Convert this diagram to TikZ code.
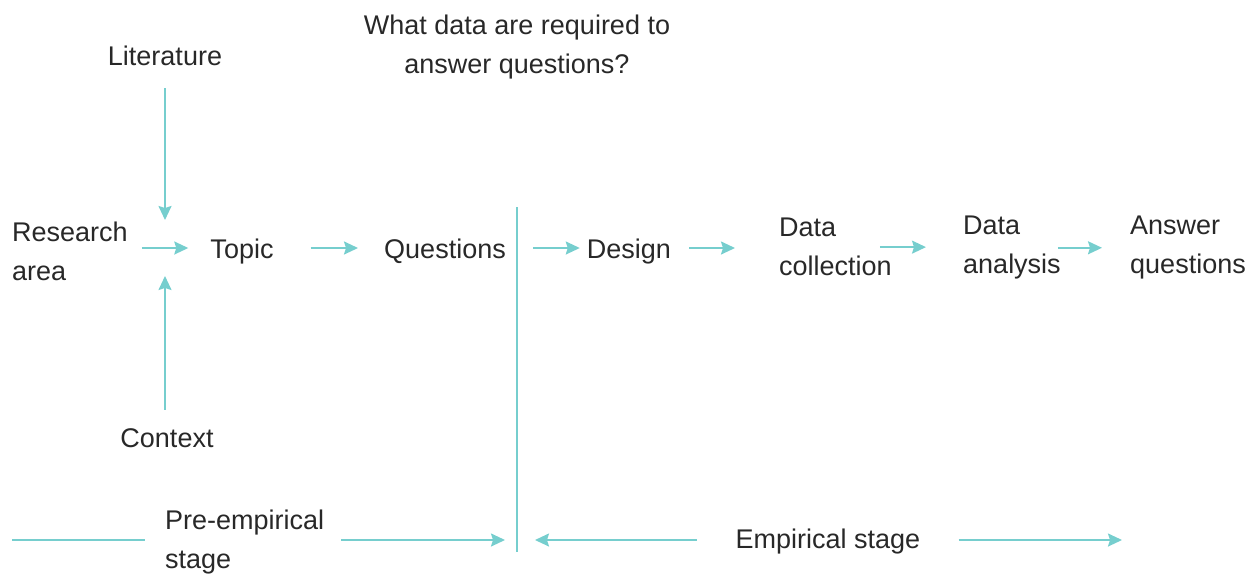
\documentclass[tikz,border=0pt]{standalone}
\usepackage{fontspec}
\setmainfont{Liberation Sans}
\usetikzlibrary{arrows.meta}
\definecolor{tealline}{RGB}{118,206,206}
\definecolor{txtgray}{RGB}{40,40,40}
\begin{document}
\begin{tikzpicture}[x=1pt,y=-1pt,
  lbl/.style={inner sep=0pt,text=txtgray,font=\fontsize{27}{39}\selectfont},
  one/.style={lbl,anchor=center,text height=20pt,text depth=0pt},
  multi/.style={lbl,anchor=north west,align=left},
  conn/.style={draw=tealline,line width=1.8pt},
  arr/.style={conn,-{Stealth[length=14pt,width=13pt,inset=2pt]}}]
\useasboundingbox (0,0) rectangle (1257,576);
% nodes
\node[one] (lit) at (165,55) {Literature};
\node[lbl,anchor=north,align=center] (what) at (517,15) {What data are required to\\answer questions?};
\node[multi] (research) at (12,222) {Research\\area};
\node[one] (topic) at (242,248) {Topic};
\node[one] (quest) at (445,248) {Questions};
\node[one] (design) at (629,248) {Design};
\node[multi] (dc) at (779,218) {Data\\collection};
\node[multi] (da) at (963,216) {Data\\analysis};
\node[multi] (ans) at (1130,216) {Answer\\questions};
\node[one] (context) at (167,437) {Context};
\node[multi] (pre) at (165,510) {Pre-empirical\\stage};
\node[one] (emp) at (828,538) {Empirical stage};
% coordinates
\coordinate (hub) at (165,248);
\coordinate (dtop) at (517,207);
\coordinate (dbot) at (517,552);
\coordinate (bleft) at (12,540);
\coordinate (bright) at (1122,540);
% vertical connectors into hub
\draw[arr] ([yshift=-23pt]lit.south -| hub) -- ([yshift=28pt]hub);
\draw[arr] ([yshift=17pt]context.north -| hub) -- ([yshift=-28pt]hub);
% main row
\draw[arr] ([xshift=14pt]research.east |- topic) -- ([xshift=-22pt]topic.west);
\draw[arr] ([xshift=37pt]topic.east) -- ([xshift=-26pt]quest.west |- topic);
\draw[conn] (dtop) -- (dbot);
\draw[arr] ([xshift=16pt]dtop |- design) -- ([xshift=-7pt]design.west);
\draw[arr] ([xshift=18pt]design.east) -- ([xshift=-44pt]dc.west |- design);
\draw[arr] ([xshift=-12pt]dc.east) -- ([xshift=-37pt]da.west |- dc.east);
\draw[arr] ([xshift=-3pt]da.east) -- ([xshift=-28pt]ans.west |- da.east);
% bottom row
\draw[conn] (bleft) -- ([xshift=-20pt]pre.west |- bleft);
\draw[arr] ([xshift=17pt]pre.east |- bleft) -- ([xshift=-12pt]dbot |- bleft);
\draw[arr] ([xshift=-39pt]emp.west |- bleft) -- ([xshift=18pt]dbot |- bleft);
\draw[arr] ([xshift=38pt]emp.east |- bleft) -- (bright);
\end{tikzpicture}
\end{document}
